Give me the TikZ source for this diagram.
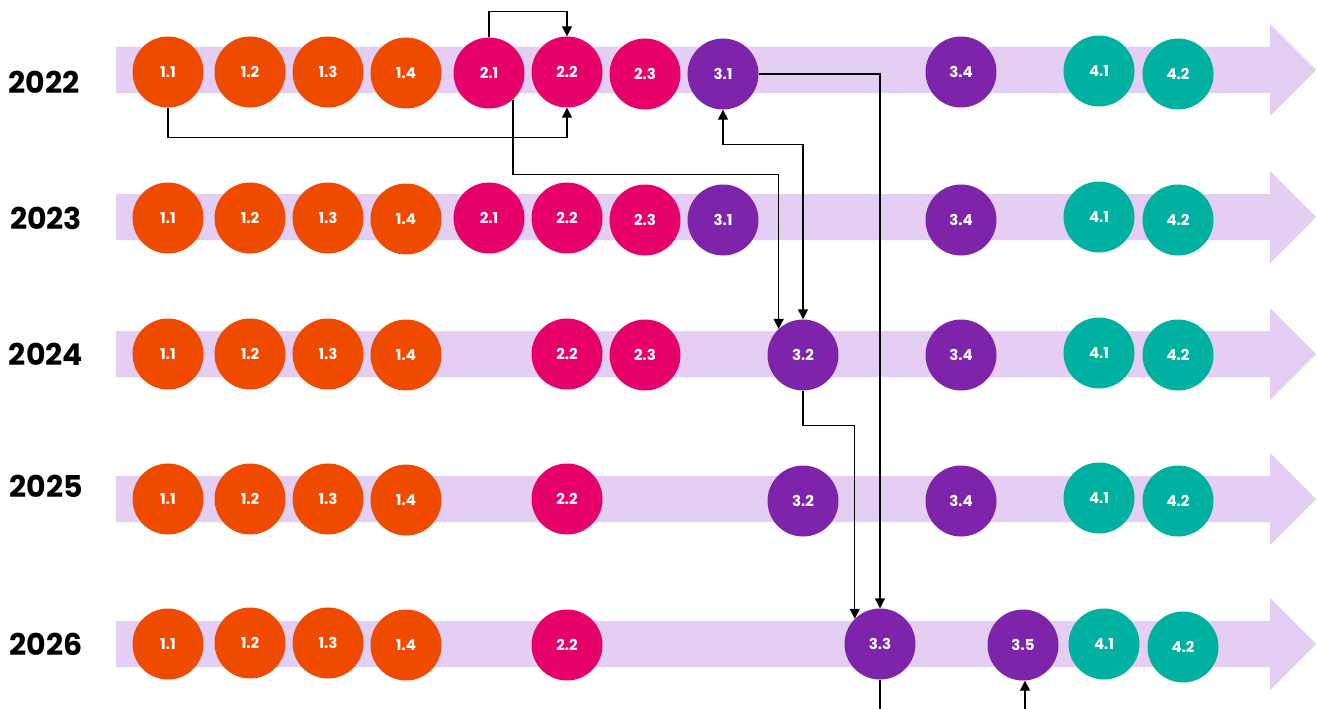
\documentclass[tikz,border=0pt]{standalone}
\usepackage{fontspec}
\setmainfont{Poppins}
\usetikzlibrary{arrows.meta}
\definecolor{orng}{RGB}{238,75,0}
\definecolor{pnk}{RGB}{230,0,106}
\definecolor{prpl}{RGB}{126,36,170}
\definecolor{teal}{RGB}{0,176,160}
\definecolor{lav}{RGB}{229,206,243}
\tikzset{
  ball/.style={circle,fill=#1,minimum size=71pt,inner sep=0pt,text=white,font=\fontsize{15}{15}\selectfont\bfseries},
  year/.style={font=\fontsize{30}{30}\selectfont\bfseries,text=black,inner sep=0pt},
  conn/.style={draw=black,line width=1.4pt,-{Triangle[length=10pt,width=10pt]}},
  connb/.style={draw=black,line width=1.4pt,{Triangle[length=10pt,width=10pt]}-{Triangle[length=10pt,width=10pt]}},
  plain/.style={draw=black,line width=1.4pt},
}
\newcommand{\band}[1]{\fill[lav] (116,#1-23) -- (1270,#1-23) -- (1270,#1-46) -- (1316,#1) -- (1270,#1+46) -- (1270,#1+23) -- (116,#1+23) -- cycle;}
\newcommand{\ball}[5]{\node[ball=#4] (#1) at (#2,#3) {#5};}
\begin{document}
\begin{tikzpicture}[x=1pt,y=-1pt]
\useasboundingbox (0,0) rectangle (1317,709);
\fill[white] (0,0) rectangle (1317,709);
% bands
\band{70}
\band{217}
\band{354}
\band{499}
\band{644}
% years
\node[year] (y22) at (44,82) {2022};
\node[year] (y23) at (46,218) {2023};
\node[year] (y24) at (46,354) {2024};
\node[year] (y25) at (46,486) {2025};
\node[year] (y26) at (46,644) {2026};
% 2022
\ball{r22c11}{168}{72}{orng}{1.1}
\ball{r22c12}{250}{72}{orng}{1.2}
\ball{r22c13}{328}{72}{orng}{1.3}
\ball{r22c14}{406}{73}{orng}{1.4}
\ball{r22c21}{489}{73}{pnk}{2.1}
\ball{r22c22}{567}{72}{pnk}{2.2}
\ball{r22c23}{645}{74}{pnk}{2.3}
\ball{r22c31}{723}{74}{prpl}{3.1}
\ball{r22c34}{961}{72}{prpl}{3.4}
\ball{r22c41}{1099}{71}{teal}{4.1}
\ball{r22c42}{1178}{74}{teal}{4.2}
% 2023
\ball{r23c11}{168}{218}{orng}{1.1}
\ball{r23c12}{250}{218}{orng}{1.2}
\ball{r23c13}{328}{218}{orng}{1.3}
\ball{r23c14}{406}{219}{orng}{1.4}
\ball{r23c21}{489}{218}{pnk}{2.1}
\ball{r23c22}{567}{218}{pnk}{2.2}
\ball{r23c23}{645}{220}{pnk}{2.3}
\ball{r23c31}{723}{220}{prpl}{3.1}
\ball{r23c34}{961}{220}{prpl}{3.4}
\ball{r23c41}{1099}{217}{teal}{4.1}
\ball{r23c42}{1178}{220}{teal}{4.2}
% 2024
\ball{r24c11}{168}{354}{orng}{1.1}
\ball{r24c12}{250}{354}{orng}{1.2}
\ball{r24c13}{328}{354}{orng}{1.3}
\ball{r24c14}{406}{355}{orng}{1.4}
\ball{r24c22}{567}{354}{pnk}{2.2}
\ball{r24c23}{645}{355}{pnk}{2.3}
\ball{r24c32}{803}{355}{prpl}{3.2}
\ball{r24c34}{961}{355}{prpl}{3.4}
\ball{r24c41}{1099}{353}{teal}{4.1}
\ball{r24c42}{1178}{355}{teal}{4.2}
% 2025
\ball{r25c11}{168}{499}{orng}{1.1}
\ball{r25c12}{250}{499}{orng}{1.2}
\ball{r25c13}{328}{499}{orng}{1.3}
\ball{r25c14}{406}{500}{orng}{1.4}
\ball{r25c22}{567}{499}{pnk}{2.2}
\ball{r25c32}{803}{501}{prpl}{3.2}
\ball{r25c34}{961}{501}{prpl}{3.4}
\ball{r25c41}{1099}{498}{teal}{4.1}
\ball{r25c42}{1178}{501}{teal}{4.2}
% 2026
\ball{r26c11}{168}{644}{orng}{1.1}
\ball{r26c12}{250}{643}{orng}{1.2}
\ball{r26c13}{328}{643}{orng}{1.3}
\ball{r26c14}{406}{645}{orng}{1.4}
\ball{r26c22}{567}{645}{pnk}{2.2}
\ball{r26c33}{880}{644}{prpl}{3.3}
\ball{r26c35}{1023}{645}{prpl}{3.5}
\ball{r26c41}{1104}{644}{teal}{4.1}
\ball{r26c42}{1183}{647}{teal}{4.2}
% connectors
\coordinate (bot1) at (880,712);
\coordinate (bot2) at (1025,712);
\draw[conn] (r22c21.north) -- ++(0,-26) -| (r22c22.north);
\draw[conn] (r22c11.south) -- ++(0,30) -| (r22c22.south);
\draw[conn] (r22c21.-48) -- ++(0,75) -| (r24c32.133);
\draw[connb] (r22c31.south) -- ++(0,35) -| (r24c32.north);
\draw[conn] (r22c31.east) -| (r26c33.north);
\draw[conn] (r24c32.south) -- ++(0,35) -| (r26c33.135);
\draw[plain] (r26c33.south) -- (bot1);
\draw[conn] (bot2) -- (r26c35.south -| bot2);
\end{tikzpicture}
\end{document}
